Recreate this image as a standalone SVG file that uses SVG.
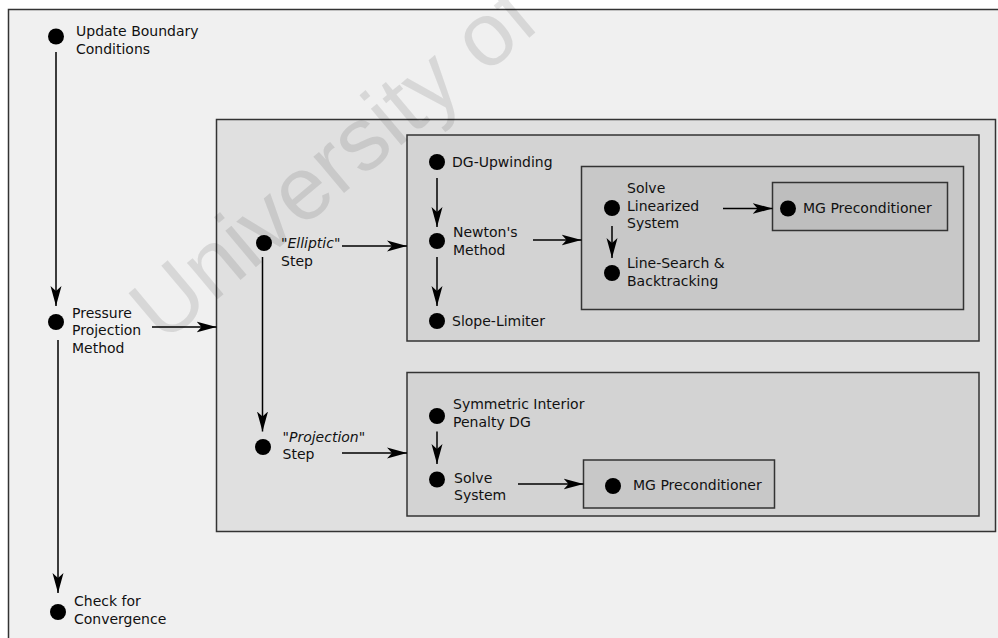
<svg xmlns="http://www.w3.org/2000/svg" width="998" height="638" viewBox="0 0 998 638">
<style>
text{font-family:"DejaVu Sans","Liberation Sans",sans-serif;font-size:14px;fill:#111}
.box{stroke:#333;stroke-width:1.5}
.dot{fill:#000}
.con line{stroke:#000;stroke-width:1.5;fill:none;marker-end:url(#ah)}
.wm{font-family:"Liberation Sans",Arial,sans-serif;font-size:90px;fill:#000;fill-opacity:0.1}
</style>
<defs>
<marker id="ah" markerUnits="userSpaceOnUse" viewBox="0 0 20 12" refX="20" refY="6" markerWidth="20" markerHeight="12" orient="auto">
<path d="M0,0.5 L20,6 L0,11.5 L5,6 Z" fill="#000"/>
</marker>
</defs>
<rect x="0" y="0" width="998" height="638" fill="#fff"/>
<g id="frame"><rect class="box" x="8.5" y="9.5" width="1000" height="640" fill="#f0f0f0"/></g>
<g id="box-projection-method"><rect class="box" x="216.5" y="119.5" width="779" height="412" fill="#e0e0e0"/></g>
<g id="box-elliptic"><rect class="box" x="407" y="135" width="572" height="206" fill="#d3d3d3"/></g>
<g id="box-newton"><rect class="box" x="581.5" y="166.5" width="382" height="143" fill="#c8c8c8"/></g>
<g id="box-mg1"><rect class="box" x="772.5" y="182.5" width="175" height="48" fill="#bebebe"/></g>
<g id="box-projection"><rect class="box" x="407" y="372.5" width="572" height="143.5" fill="#d3d3d3"/></g>
<g id="box-mg2"><rect class="box" x="583.5" y="460" width="191" height="48" fill="#c8c8c8"/></g>

<g id="update-bc"><circle class="dot" cx="56" cy="36.5" r="8"/><text x="76" y="36">Update Boundary</text><text x="76" y="53.5">Conditions</text></g>
<g id="pressure"><circle class="dot" cx="56" cy="322" r="8"/><text x="72" y="317.5">Pressure</text><text x="72" y="335">Projection</text><text x="72" y="352.5">Method</text></g>
<g id="check"><circle class="dot" cx="58" cy="612" r="8"/><text x="74" y="606">Check for</text><text x="74" y="623.5">Convergence</text></g>
<g id="elliptic"><circle class="dot" cx="264" cy="243" r="8"/><text x="281" y="248">"<tspan font-style="italic">Elliptic</tspan>"</text><text x="281" y="265.5">Step</text></g>
<g id="projection"><circle class="dot" cx="263" cy="447" r="8"/><text x="282.5" y="441.5">"<tspan font-style="italic">Projection</tspan>"</text><text x="282.5" y="459">Step</text></g>
<g id="dg-upwinding"><circle class="dot" cx="437" cy="162" r="8"/><text x="452" y="166.5">DG-Upwinding</text></g>
<g id="newton"><circle class="dot" cx="437" cy="241" r="8"/><text x="453" y="237">Newton's</text><text x="453" y="254.5">Method</text></g>
<g id="slope-limiter"><circle class="dot" cx="437" cy="321" r="8"/><text x="452" y="326">Slope-Limiter</text></g>
<g id="solve-linearized"><circle class="dot" cx="612" cy="208" r="8"/><text x="627" y="193">Solve</text><text x="627" y="210.5">Linearized</text><text x="627" y="228">System</text></g>
<g id="line-search"><circle class="dot" cx="612" cy="273" r="8"/><text x="627" y="268">Line-Search &amp;</text><text x="627" y="285.5">Backtracking</text></g>
<g id="mg-precond-1"><circle class="dot" cx="788" cy="208.5" r="8"/><text x="803" y="213">MG Preconditioner</text></g>
<g id="sipdg"><circle class="dot" cx="437" cy="416" r="8"/><text x="453" y="409">Symmetric Interior</text><text x="453" y="426.5">Penalty DG</text></g>
<g id="solve-system"><circle class="dot" cx="437" cy="479.5" r="8"/><text x="454" y="482.5">Solve</text><text x="454" y="500">System</text></g>
<g id="mg-precond-2"><circle class="dot" cx="613" cy="486" r="8"/><text x="633" y="490">MG Preconditioner</text></g>

<g id="connectors" class="con">
<line x1="56" y1="52" x2="56" y2="306"/>
<line x1="58" y1="340" x2="58" y2="593"/>
<line x1="152" y1="327" x2="216.5" y2="327"/>
<line x1="342" y1="246" x2="407" y2="246"/>
<line x1="262.5" y1="257" x2="262.5" y2="431.5"/>
<line x1="342" y1="453" x2="407" y2="453"/>
<line x1="437" y1="178" x2="437" y2="227"/>
<line x1="437" y1="257" x2="437" y2="306"/>
<line x1="533" y1="240" x2="581.5" y2="240"/>
<line x1="612" y1="226" x2="612" y2="258"/>
<line x1="723" y1="208.5" x2="772.5" y2="208.5"/>
<line x1="437" y1="431.5" x2="437" y2="464"/>
<line x1="518" y1="484" x2="583.5" y2="484"/>
</g>
<text class="wm" transform="translate(163,345) rotate(-40)">University of</text>
</svg>
